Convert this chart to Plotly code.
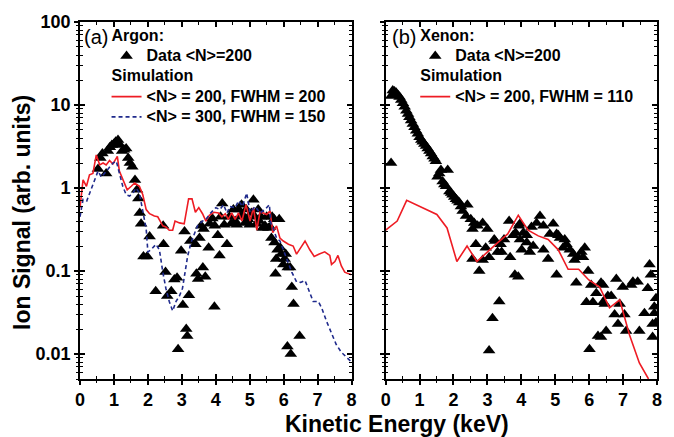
import plotly.graph_objects as go

# ---------------- data ----------------
# Argon measured data <N>=200
ar_x = [0.53, 0.60, 0.66, 0.77, 0.82, 0.88, 0.94, 1.00, 1.05, 1.12, 1.18, 1.24, 1.30, 1.36, 1.42, 1.47, 1.54,
        1.62, 1.68, 1.72, 1.76, 1.80, 1.87, 1.98, 2.05, 2.23, 2.45, 2.46, 2.52, 2.57, 2.69, 2.78, 2.86, 2.89,
        2.98, 3.03, 3.08, 3.13, 3.16, 3.21, 3.25, 3.40, 3.43, 3.48, 3.52, 3.57, 3.62, 3.64, 3.69, 3.79, 3.82,
        3.90, 3.96, 3.97, 4.06, 4.11, 4.14, 4.19, 4.25, 4.33, 4.40, 4.45, 4.52, 4.57, 4.62, 4.68, 4.72, 4.76,
        4.80, 4.86, 4.90, 4.95, 5.00, 5.05, 5.11, 5.15, 5.20, 5.25, 5.28, 5.33, 5.38, 5.45, 5.50, 5.55, 5.60,
        5.64, 5.66, 5.72, 5.73, 5.76, 5.78, 5.82, 5.87, 5.90, 5.93, 5.99, 6.03, 6.06, 6.12, 6.19, 6.11, 6.21,
        6.24, 6.29, 6.47]
ar_y = [1.7, 2.3, 2.6, 1.5, 2.8, 3.1, 3.3, 3.4, 3.6, 3.8, 3.3, 2.8, 2.9, 3.0, 2.3, 2.0, 1.8,
        1.25, 0.95, 0.75, 0.50, 0.37, 0.15, 0.15, 0.26, 0.057, 0.35, 0.21, 0.097, 0.050, 0.057, 0.079, 0.083, 0.0114,
        0.175, 0.039, 0.30, 0.020, 0.0165, 0.051, 0.23, 0.21, 0.093, 0.080, 0.25, 0.35, 0.11, 0.32, 0.085, 0.19, 0.37,
        0.43, 0.037, 0.35, 0.27, 0.154, 0.45, 0.65, 0.36, 0.21, 0.45, 0.37, 0.55, 0.40, 0.36, 0.55, 0.45, 0.63,
        0.47, 0.38, 0.55, 0.42, 0.36, 0.50, 0.72, 0.45, 0.37, 0.55, 0.40, 0.45, 0.33, 0.35, 0.45, 0.33, 0.34,
        0.25, 0.45, 0.42, 0.22, 0.093, 0.14, 0.18, 0.42, 0.19, 0.16, 0.12, 0.14, 0.16, 0.11, 0.11, 0.0123, 0.010,
        0.064, 0.040, 0.0165]

# Argon simulation <N>=200, FWHM=200
ar_s1_x = [0, 0.09, 0.19, 0.28, 0.38, 0.48, 0.58, 0.68, 0.77, 0.87, 0.97, 1.10, 1.16, 1.26, 1.39, 1.51, 1.61,
           1.75, 1.85, 1.95, 2.05, 2.19, 2.29, 2.44, 2.53, 2.63, 2.73, 2.80, 2.93, 3.07, 3.20, 3.30, 3.40, 3.50,
           3.61, 3.71, 3.81, 3.95, 4.08, 4.18, 4.28, 4.37, 4.47, 4.57, 4.67, 4.77, 4.89, 5.01, 5.11, 5.21, 5.30,
           5.40, 5.50, 5.60, 5.68, 5.79, 5.89, 5.99, 6.14, 6.28, 6.38, 6.50, 6.63, 6.77, 6.90, 7.05, 7.21, 7.36,
           7.41, 7.51, 7.60, 7.70, 7.80, 7.90, 8.0]
ar_s1_y = [0.58, 1.25, 1.05, 1.44, 1.5, 2.5, 1.9, 2.0, 1.9, 2.15, 1.95, 2.4, 1.6, 1.25, 0.95, 1.05, 1.15,
           1.05, 0.83, 0.55, 0.49, 0.46, 0.45, 0.35, 0.34, 0.31, 0.31, 0.40, 0.38, 0.37, 0.74, 0.74, 0.51, 0.58,
           0.49, 0.40, 0.47, 0.51, 0.50, 0.45, 0.49, 0.42, 0.50, 0.42, 0.50, 0.40, 0.63, 0.40, 0.58, 0.31, 0.51,
           0.50, 0.48, 0.53, 0.29, 0.35, 0.25, 0.23, 0.21, 0.20, 0.16, 0.19, 0.23, 0.18, 0.15, 0.16, 0.17, 0.154,
           0.12, 0.13, 0.154, 0.115, 0.097, 0.093, 0.09]

# Argon simulation <N>=300, FWHM=150
ar_s2_x = [0, 0.09, 0.2, 0.33, 0.43, 0.53, 0.63, 0.77, 0.87, 0.97, 1.07, 1.16, 1.26, 1.36, 1.46, 1.56, 1.65,
           1.75, 1.85, 1.95, 2.0, 2.09, 2.24, 2.34, 2.44, 2.53, 2.63, 2.73, 2.83, 2.93, 3.02, 3.12, 3.17, 3.27,
           3.36, 3.46, 3.61, 3.71, 3.85, 4.0, 4.12, 4.23, 4.33, 4.42, 4.57, 4.67, 4.79, 4.91, 5.01, 5.16, 5.30,
           5.45, 5.58, 5.62, 5.70, 5.79, 5.89, 5.99, 6.09, 6.24, 6.38, 6.50, 6.63, 6.77, 6.87, 7.02, 7.12, 7.26,
           7.41, 7.55, 7.70, 7.85, 8.0]
ar_s2_y = [0.45, 0.73, 0.7, 0.95, 1.2, 1.6, 1.35, 1.6, 1.8, 2.0, 2.1, 1.5, 1.05, 0.83, 0.80, 0.87, 1.0,
           0.87, 0.50, 0.32, 0.17, 0.18, 0.21, 0.18, 0.097, 0.062, 0.043, 0.033, 0.043, 0.05, 0.062, 0.105, 0.15, 0.22,
           0.27, 0.35, 0.40, 0.42, 0.50, 0.58, 0.55, 0.63, 0.50, 0.60, 0.58, 0.70, 0.60, 0.87, 0.51, 0.60, 0.50,
           0.55, 0.63, 0.38, 0.32, 0.25, 0.23, 0.18, 0.14, 0.097, 0.074, 0.073, 0.077, 0.056, 0.043, 0.043, 0.036, 0.025,
           0.0175, 0.013, 0.0105, 0.0092, 0.008]

# Xenon measured data <N>=200
xe_x = [0.16, 0.16, 0.21, 0.26, 0.31, 0.36, 0.41, 0.46, 0.51, 0.56, 0.61, 0.66, 0.70, 0.75, 0.80, 0.85, 0.90,
        0.95, 1.00, 1.05, 1.09, 1.14, 1.19, 1.24, 1.29, 1.34, 1.39, 1.44, 1.48, 1.53, 1.58, 1.63, 1.68, 1.73,
        1.78, 1.83, 1.88, 1.93, 1.97, 2.02, 2.07, 2.12, 2.17, 2.22, 2.27, 2.37, 2.41, 2.51, 2.56, 2.61, 2.66,
        2.71, 2.56, 2.76, 2.86, 2.86, 2.95, 3.00, 3.05, 3.05, 3.15, 3.20, 3.23, 3.30, 3.35, 3.39, 3.42, 3.49,
        3.64, 3.67, 3.76, 3.81, 3.83, 3.91, 3.93, 3.96, 3.96, 4.01, 4.06, 4.16, 4.16, 4.25, 4.30, 4.35, 4.45,
        4.55, 4.65, 4.65, 4.79, 4.84, 4.94, 5.04, 5.04, 5.09, 5.14, 5.23, 5.28, 5.33, 5.43, 5.53, 5.57, 5.62,
        5.67, 5.77, 5.82, 5.87, 5.92, 5.97, 6.01, 6.06, 6.11, 6.21, 6.26, 6.35, 6.35, 6.41, 6.41, 6.46, 6.50,
        6.55, 6.65, 6.75, 6.80, 6.85, 6.90, 6.99, 7.04, 7.09, 7.24, 7.29, 7.43, 7.48, 7.63, 7.73, 7.78, 7.82,
        7.87, 7.87, 7.92, 7.92, 7.97, 7.97]
xe_y = [12.8, 2.0, 15.0, 14.5, 14.0, 13.2, 12.5, 11.5, 10.5, 9.5, 8.5, 7.8, 7.1, 6.5, 5.9, 5.4, 4.9,
        4.5, 4.1, 3.8, 3.6, 3.4, 3.2, 3.0, 2.8, 2.6, 2.4, 2.25, 2.1, 1.37, 1.5, 1.65, 1.2, 1.1,
        1.05, 1.65, 0.91, 0.87, 0.83, 0.78, 0.73, 0.70, 0.67, 0.60, 0.53, 0.46, 0.63, 0.42, 0.32, 0.38, 0.21,
        0.35, 0.14, 0.10, 0.38, 0.136, 0.19, 0.32, 0.146, 0.011, 0.027, 0.24, 0.23, 0.17, 0.043, 0.21, 0.17, 0.24,
        0.40, 0.146, 0.27, 0.09, 0.29, 0.085, 0.35, 0.37, 0.24, 0.18, 0.29, 0.22, 0.27, 0.17, 0.34, 0.20, 0.38,
        0.46, 0.35, 0.18, 0.14, 0.28, 0.37, 0.28, 0.09, 0.27, 0.25, 0.19, 0.24, 0.21, 0.18, 0.16, 0.136, 0.072,
        0.146, 0.17, 0.146, 0.19, 0.042, 0.10, 0.0114, 0.068, 0.042, 0.054, 0.0165, 0.016, 0.072, 0.068, 0.042, 0.040, 0.019,
        0.05, 0.05, 0.03, 0.08, 0.023, 0.04, 0.064, 0.03, 0.019, 0.068, 0.074, 0.074, 0.019, 0.031, 0.062, 0.12, 0.09,
        0.023, 0.016, 0.037, 0.031, 0.047, 0.024]

# Xenon simulation <N>=200, FWHM=110
xe_s_x = [0, 0.34, 0.62, 1.51, 1.81, 2.10, 2.40, 2.69, 3.28, 3.60, 3.91, 4.20, 4.50, 4.79, 5.09, 5.38, 5.69,
          5.99, 6.31, 6.60, 6.90, 7.19, 7.48, 7.75]
xe_s_y = [0.31, 0.40, 0.71, 0.48, 0.33, 0.13, 0.20, 0.13, 0.215, 0.28, 0.47, 0.31, 0.265, 0.24, 0.18, 0.105, 0.105,
          0.078, 0.064, 0.036, 0.045, 0.017, 0.0078, 0.005]

x_range = [0, 8]
y_range_log = [-2.301, 2]

# ---------------- styling ----------------
FONT = "Liberation Sans"
RED = "#ee1c24"
BLUE = "#1f2a8c"


def big(t):
    # legend text rendered at 16px while row spacing follows the (smaller) legend font size
    return '<span style="font-size:16px">' + t + '</span>'


fig = go.Figure()

tri = dict(symbol="triangle-up", size=11, color="black", line=dict(width=0))

fig.add_trace(go.Scatter(x=ar_x, y=ar_y, mode="markers", marker=tri,
                         name=big("Data &lt;N&gt;=200"), legend="legend",
                         legendgroup="ar_data", legendgrouptitle=dict(text=big("Argon:")),
                         xaxis="x", yaxis="y"))
fig.add_trace(go.Scatter(x=ar_s1_x, y=ar_s1_y, mode="lines", line=dict(color=RED, width=1.6),
                         name=big("&lt;N&gt; = 200, FWHM = 200"), legend="legend",
                         legendgroup="ar_sim", legendgrouptitle=dict(text=big("Simulation")),
                         xaxis="x", yaxis="y"))
fig.add_trace(go.Scatter(x=ar_s2_x, y=ar_s2_y, mode="lines",
                         line=dict(color=BLUE, width=1.6, dash="4px,3px"),
                         name=big("&lt;N&gt; = 300, FWHM = 150"), legend="legend",
                         legendgroup="ar_sim", legendgrouptitle=dict(text=big("Simulation")),
                         xaxis="x", yaxis="y"))

fig.add_trace(go.Scatter(x=xe_x, y=xe_y, mode="markers", marker=tri,
                         name=big("Data &lt;N&gt;=200"), legend="legend2",
                         legendgroup="xe_data", legendgrouptitle=dict(text=big("Xenon:")),
                         xaxis="x2", yaxis="y2"))
fig.add_trace(go.Scatter(x=xe_s_x, y=xe_s_y, mode="lines", line=dict(color=RED, width=1.6),
                         name=big("&lt;N&gt; = 200, FWHM = 110"), legend="legend2",
                         legendgroup="xe_sim", legendgrouptitle=dict(text=big("Simulation")),
                         xaxis="x2", yaxis="y2"))

# empty traces to activate overlay axes carrying the outer half of the crossing ticks
fig.add_trace(go.Scatter(x=[], y=[], xaxis="x3", yaxis="y3", showlegend=False, hoverinfo="skip"))
fig.add_trace(go.Scatter(x=[], y=[], xaxis="x4", yaxis="y4", showlegend=False, hoverinfo="skip"))

tickfont = dict(family=FONT, size=18, color="black", weight="bold")
left_dom = [0, 0.4706]
right_dom = [0.5297, 1]


def xax(dom, anchor):
    return dict(domain=dom, anchor=anchor, range=x_range, dtick=1, tick0=0,
                ticks="inside", ticklen=5, tickwidth=1.5, tickcolor="black",
                mirror="allticks", showline=True, linewidth=1.6, linecolor="black",
                showgrid=False, zeroline=False, tickfont=tickfont, ticklabelstandoff=4,
                minor=dict(ticks="inside", ticklen=3, tickwidth=1.2, tickcolor="black", dtick=0.5, tick0=0))


def yax(anchor, labels):
    return dict(type="log", domain=[0, 1], anchor=anchor, range=y_range_log, dtick=1, tick0=0,
                ticks="inside", ticklen=5, tickwidth=1.5, tickcolor="black",
                mirror="allticks", showline=True, linewidth=1.6, linecolor="black",
                showgrid=False, zeroline=False, tickfont=tickfont, showticklabels=labels,
                ticklabelstandoff=4,
                minor=dict(ticks="inside", ticklen=3, tickwidth=1.2, tickcolor="black", dtick="D1"))


def xover(base, anchor):
    return dict(overlaying=base, anchor=anchor, range=x_range, dtick=1, tick0=0,
                ticks="outside", ticklen=5, tickwidth=1.5, tickcolor="black",
                showticklabels=False, showline=False, showgrid=False, zeroline=False,
                minor=dict(ticks="outside", ticklen=3, tickwidth=1.2, tickcolor="black", dtick=0.5, tick0=0))


def yover(base, anchor):
    return dict(type="log", overlaying=base, anchor=anchor, range=y_range_log, dtick=1, tick0=0,
                ticks="outside", ticklen=5, tickwidth=1.5, tickcolor="black",
                showticklabels=False, showline=False, showgrid=False, zeroline=False,
                minor=dict(ticks="outside", ticklen=3, tickwidth=1.2, tickcolor="black", dtick="D1"))


legfont = dict(family=FONT, size=13.3, color="black", weight="bold")

fig.update_layout(
    width=674, height=437,
    margin=dict(l=80, r=15, t=17, b=58),
    paper_bgcolor="white", plot_bgcolor="white",
    font=dict(family=FONT, color="black"),
    showlegend=True,
    xaxis=xax(left_dom, "y"),
    yaxis=yax("x", True),
    xaxis2=xax(right_dom, "y2"),
    yaxis2=yax("x2", False),
    xaxis3=xover("x", "y3"),
    yaxis3=yover("y", "x3"),
    xaxis4=xover("x2", "y4"),
    yaxis4=yover("y2", "x4"),
    legend=dict(x=0.046, y=1.004, xanchor="left", yanchor="top", bgcolor="rgba(0,0,0,0)",
                font=legfont, grouptitlefont=legfont, tracegroupgap=0, traceorder="grouped",
                itemwidth=30),
    legend2=dict(x=0.581, y=1.004, xanchor="left", yanchor="top", bgcolor="rgba(0,0,0,0)",
                 font=legfont, grouptitlefont=legfont, tracegroupgap=0, traceorder="grouped",
                 itemwidth=30),
    annotations=[
        dict(text="(a)", xref="paper", yref="paper", x=0.0035, y=0.958, xanchor="left", yanchor="middle",
             showarrow=False, font=dict(family=FONT, size=20, color="black")),
        dict(text="(b)", xref="paper", yref="paper", x=0.537, y=0.958, xanchor="left", yanchor="middle",
             showarrow=False, font=dict(family=FONT, size=20, color="black")),
        dict(text="Kinetic Energy (keV)", xref="paper", yref="paper", x=0.549, y=-0.127,
             xanchor="center", yanchor="middle", showarrow=False,
             font=dict(family=FONT, size=23, color="black", weight="bold")),
        dict(text="Ion Signal (arb. units)", xref="paper", yref="paper", x=-0.0993, y=0.467,
             xanchor="center", yanchor="middle", textangle=-90, showarrow=False,
             font=dict(family=FONT, size=23, color="black", weight="bold")),
    ],
)

fig.write_html("out.html")
